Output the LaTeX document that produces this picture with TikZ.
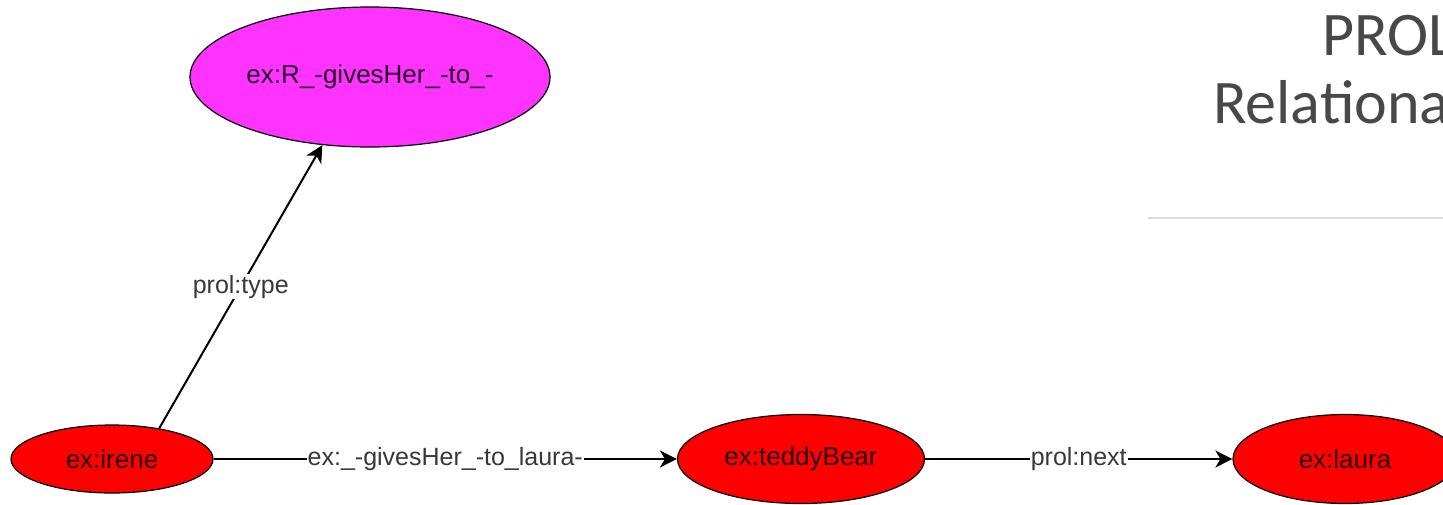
\documentclass[tikz,border=0pt]{standalone}
\usepackage{fontspec}
\setmainfont{Liberation Sans}
\newfontfamily\titlefont{Carlito}
\usetikzlibrary{shapes.geometric,arrows.meta}
\definecolor{nodered}{HTML}{FF0000}
\definecolor{typemag}{HTML}{FF33FF}
\definecolor{labelgray}{HTML}{383838}
\definecolor{titlegray}{HTML}{484848}
\definecolor{rulegray}{HTML}{D9D9D9}

\begin{document}
\begin{tikzpicture}[x=1pt,y=-1pt,
  res/.style={ellipse, draw=black, line width=1.2pt, fill=nodered,
    text=black!85!red, font=\fontsize{26}{30}\selectfont, inner sep=0pt},
  cls/.style={res, fill=typemag, text=black!85!typemag},
  link/.style={line width=2pt, -{Stealth[length=17pt,width=17pt,inset=5pt]}},
  lbl/.style={fill=white, text=labelgray, font=\fontsize{25}{28}\selectfont, inner sep=1pt},
  title/.style={anchor=base west, inner sep=0pt, text=titlegray,
    font=\titlefont\fontsize{62}{70}\selectfont}]
\useasboundingbox (0,0) rectangle (1443,504);
\fill[white] (0,0) rectangle (1443,504);

% slide title and rule
\node[title] (t1) at (1322,55) {PROL};
\node[title] (t2) at (1213,123) {Relationa};
\draw[rulegray, line width=1.5pt] (1148,218) -- (1443,218);

% resources
\node[cls, minimum width=360pt, minimum height=140pt] (R) at (370,77) {ex:R\_-givesHer\_-to\_-};
\node[res, minimum width=202pt, minimum height=68pt] (irene) at (112,459) {ex:irene};
\node[res, minimum width=247pt, minimum height=89pt] (teddy) at (801,459) {ex:teddyBear};
\node[res, minimum width=224pt, minimum height=89pt] (laura) at (1345,459) {ex:laura};

% statements
\draw[link] (irene.33) -- node[lbl] {prol:type} (R.235);
\draw[link] (irene) -- node[lbl] {ex:\_-givesHer\_-to\_laura-} (teddy);
\draw[link] (teddy) -- node[lbl] {prol:next} (laura);
\end{tikzpicture}
\end{document}
